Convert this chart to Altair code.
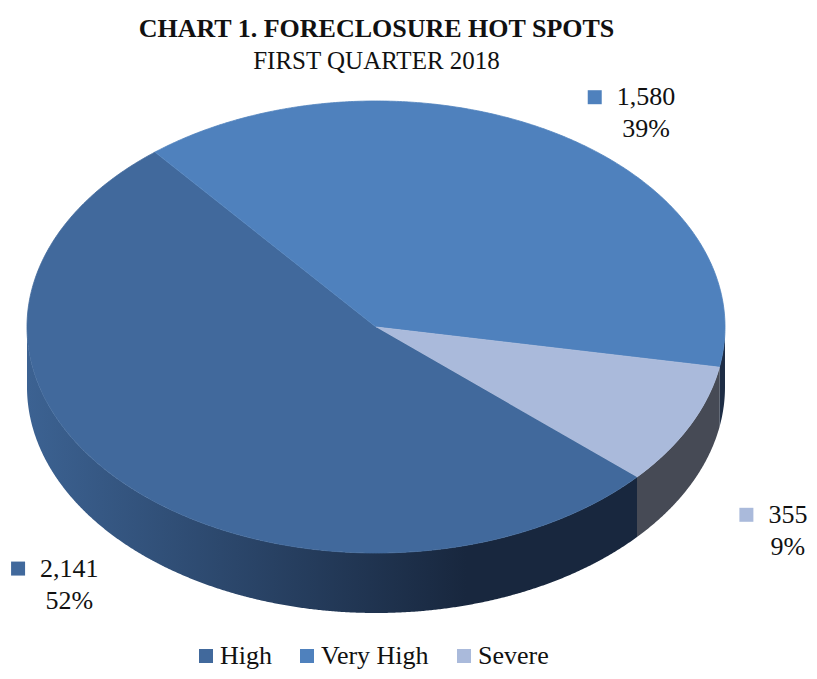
import numpy as np
import pandas as pd
import altair as alt

# ---------------- data ----------------
categories = ["High", "Very High", "Severe"]
counts = [2141, 1580, 355]
pct_labels = ["52%", "39%", "9%"]
title_text = "CHART 1. FORECLOSURE HOT SPOTS"
subtitle_text = "FIRST QUARTER 2018"

# ---------------- style / layout ----------------
top_colors = ["#41699C", "#4F81BD", "#AABADB"]
side_fill = {
    "High": alt.Gradient(
        gradient="linear", x1=0, x2=1, y1=0, y2=0,
        stops=[alt.GradientStop(offset=0, color="#3C6292"),
               alt.GradientStop(offset=0.72, color="#18273E"),
               alt.GradientStop(offset=1, color="#18273E")]),
    "Very High": "#1E2D45",
    "Severe": "#464A55",
}
FONT = "Liberation Serif"
W, H = 801, 583
PAD_TOP = 80
CX, CY = 368, 239        # pie centre in view pixels
RX, RY = 349, 226        # ellipse radii in pixels
DEPTH_PX = 60
START_DEG = -41.6        # first slice starts here, drawn clockwise
D = DEPTH_PX / RY
x_dom = [-CX / RX, (W - CX) / RX]
y_dom = [-(H - CY) / RY, CY / RY]
label_nudge = {"High": (-55, 41), "Very High": (93, -19), "Severe": (98, 45)}  # px
LABEL_FS = 26

total = float(sum(counts))
fracs = [c / total for c in counts]

top_rows, side_rows, lab_rows = [], [], []
a0 = np.deg2rad(START_DEG)
for cat, f, cnt, pct, col in zip(categories, fracs, counts, pct_labels, top_colors):
    span = f * 2 * np.pi
    a1 = a0 - span
    # top face polygon
    n = max(4, int(np.degrees(span) * 2))
    angs = np.linspace(a0, a1, n)
    pts = [(0.0, 0.0)] + [(np.cos(t), np.sin(t)) for t in angs]
    for i, (x, y) in enumerate(pts):
        top_rows.append({"cat": cat, "col": col, "x": x, "y": y, "o": i})
    # side wall (visible front half only)
    fine = np.linspace(a0, a1, max(3, int(np.degrees(span) * 4)))
    vis = [t for t in fine if np.sin(t) <= 1e-9]
    if len(vis) >= 2:
        upper = [(np.cos(t), np.sin(t)) for t in vis]
        lower = [(np.cos(t), np.sin(t) - D) for t in vis[::-1]]
        for i, (x, y) in enumerate(upper + lower):
            side_rows.append({"cat": cat, "x": x, "y": y, "o": i})
    # label anchor
    m = 0.5 * (a0 + a1)
    ex, ey = np.cos(m), np.sin(m)
    if ey < 0:
        ey -= D
    nx, ny = label_nudge[cat]
    lx = ex + nx / RX
    ly = ey - ny / RY
    val = f"{cnt:,}"
    est_w = sum(0.25 if ch in ",." else 0.5 for ch in val) * LABEL_FS
    lab_rows.append({
        "cat": cat, "x": lx, "y": ly, "val": val, "pct": pct,
        "sx": lx - (est_w / 2 + 22) / RX, "sy": ly + 16 / RY,
    })
    a0 = a1

top_df = pd.DataFrame(top_rows)
side_df = pd.DataFrame(side_rows)
lab_df = pd.DataFrame(lab_rows)

xs = alt.Scale(domain=x_dom, nice=False, zero=False)
ys = alt.Scale(domain=y_dom, nice=False, zero=False)
X = alt.X("x:Q", scale=xs, axis=None)
Y = alt.Y("y:Q", scale=ys, axis=None)
cscale = alt.Scale(domain=categories, range=top_colors)

side_layers = []
for cat in categories:
    if not (side_df["cat"] == cat).any():
        continue
    side_layers.append(
        alt.Chart(side_df[side_df["cat"] == cat]).mark_line(
            filled=True, fill=side_fill[cat], strokeWidth=0, interpolate="linear"
        ).encode(x=X, y=Y, order="o:Q")
    )

tops = alt.Chart(top_df).mark_line(filled=True, strokeWidth=0.8, interpolate="linear").encode(
    x=X, y=Y,
    fill=alt.Fill("col:N", scale=None),
    stroke=alt.Stroke("col:N", scale=None),
    detail="cat:N",
    order="o:Q",
)

squares = alt.Chart(lab_df).mark_square(size=196, opacity=1).encode(
    x=alt.X("sx:Q", scale=xs, axis=None),
    y=alt.Y("sy:Q", scale=ys, axis=None),
    color=alt.Color(
        "cat:N", scale=cscale, sort=categories,
        legend=alt.Legend(
            title=None, orient="none", direction="horizontal",
            legendX=185, legendY=555, symbolType="square", symbolSize=196,
            symbolStrokeWidth=0, labelFont=FONT, labelFontSize=26,
            labelColor="#111111", columnPadding=22, labelOffset=1,
            symbolOpacity=1,
        ),
    ),
)

vals = alt.Chart(lab_df).mark_text(
    font=FONT, fontSize=LABEL_FS, color="#111111", align="center", baseline="middle", dy=-16
).encode(x=X, y=Y, text="val:N")
pcts = alt.Chart(lab_df).mark_text(
    font=FONT, fontSize=LABEL_FS, color="#111111", align="center", baseline="middle", dy=16
).encode(x=X, y=Y, text="pct:N")

chart = alt.layer(*side_layers, tops, squares, vals, pcts).properties(
    width=W, height=H,
    autosize=alt.AutoSizeParams(type="none"),
    padding={"left": 0, "top": PAD_TOP, "right": 0, "bottom": 0},
    background="white",
    title=alt.Title(
        text=title_text, subtitle=subtitle_text, anchor="middle", dx=-32,
        font=FONT, fontSize=26, fontWeight="bold", color="#111111",
        subtitleFont=FONT, subtitleFontSize=25, subtitleColor="#111111",
        subtitlePadding=7, offset=10,
    ),
).configure_view(stroke=None)

chart.save("out.html", embed_options={"renderer": "svg", "actions": False})
